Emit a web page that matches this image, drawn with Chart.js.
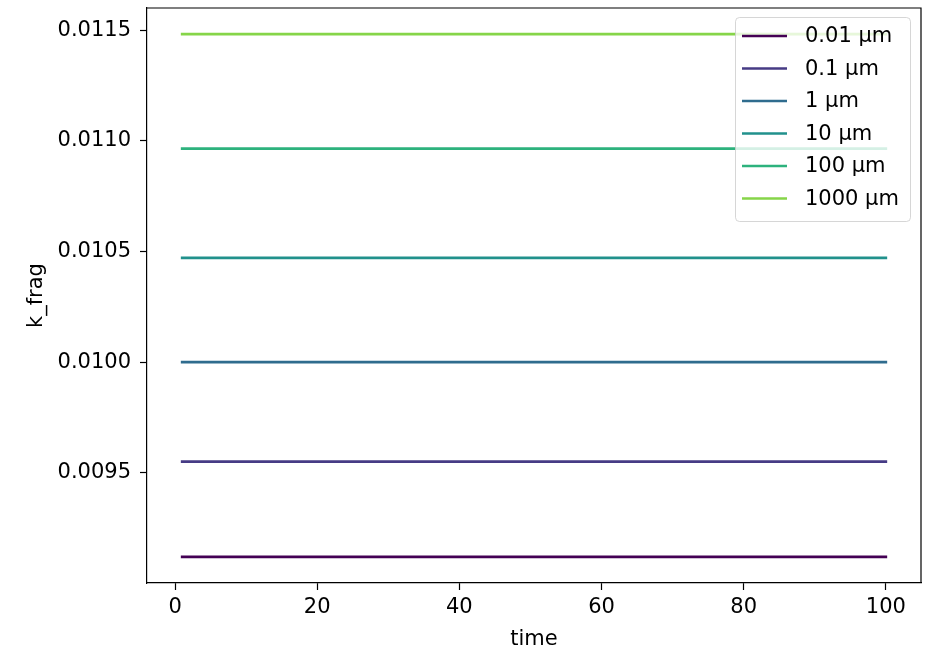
<!DOCTYPE html>
<html lang="en">
<head>
  <meta charset="UTF-8">
  <title>k_frag vs time</title>
  <script src="https://cdn.jsdelivr.net/npm/chart.js"></script>
  <style>
    html, body {
      margin: 0;
      padding: 0;
      background: white;
    }
    #wrap {
      width: 930px;
      height: 652px;
    }
  </style>
</head>
<body>
  <div id="wrap"><canvas id="graphique"></canvas></div>

  <script>
    // time span of each run
    const times = [1, 100];
    // particle sizes and the (constant) fragmentation rate for each
    const sizes = ['0.01 µm', '0.1 µm', '1 µm', '10 µm', '100 µm', '1000 µm'];
    const kFrag = [0.009120, 0.009550, 0.010000, 0.010471, 0.010965, 0.011482];
    const couleurs = ['#440154', '#463b85', '#2f6c8e', '#21918c', '#2db27d', '#86d549'];
    const xTicks = [0, 20, 40, 60, 80, 100];
    const yTicks = [0.0095, 0.0100, 0.0105, 0.0110, 0.0115];

    const police = 'DejaVu Sans';
    const taille = 21;

    const datasets = sizes.map((nom, i) => ({
      label: nom,
      data: times.map(t => ({ x: t, y: kFrag[i] })),
      borderColor: couleurs[i],
      backgroundColor: couleurs[i],
      borderWidth: 2.7,
      borderCapStyle: 'square',
      pointRadius: 0,
      fill: false
    }));

    // top/right spines + legend box in the upper right corner
    const cadreEtLegende = {
      id: 'cadreEtLegende',
      afterDatasetsDraw(chart) {
        const { ctx, chartArea: a } = chart;
        ctx.save();
        ctx.strokeStyle = '#000';
        ctx.lineWidth = 1.2;
        ctx.beginPath();
        ctx.moveTo(a.left, a.top);
        ctx.lineTo(a.right, a.top);
        ctx.lineTo(a.right, a.bottom);
        ctx.stroke();

        const bx = a.right - 186, by = a.top + 9, bw = 175, bh = 204;
        ctx.fillStyle = 'rgba(255,255,255,0.8)';
        ctx.strokeStyle = 'rgba(204,204,204,0.8)';
        ctx.lineWidth = 1;
        ctx.beginPath();
        ctx.roundRect(bx + 0.5, by + 0.5, bw, bh, 4);
        ctx.fill();
        ctx.stroke();

        ctx.font = taille + 'px "' + police + '"';
        ctx.textBaseline = 'middle';
        ctx.textAlign = 'left';
        sizes.forEach((nom, i) => {
          const y = by + 19 + i * 32.5;
          ctx.strokeStyle = couleurs[i];
          ctx.lineWidth = 2.7;
          ctx.beginPath();
          ctx.moveTo(bx + 7, y);
          ctx.lineTo(bx + 52, y);
          ctx.stroke();
          ctx.fillStyle = '#000';
          ctx.fillText(nom, bx + 70, y + 1);
        });
        ctx.restore();
      }
    };

    new Chart(document.getElementById('graphique'), {
      type: 'line',
      data: { datasets: datasets },
      options: {
        responsive: true,
        maintainAspectRatio: false,
        animation: false,
        layout: { padding: { top: 8, right: 9, left: 0, bottom: 0 } },
        plugins: {
          legend: { display: false },
          tooltip: { enabled: false }
        },
        scales: {
          x: {
            type: 'linear',
            min: -3.95,
            max: 104.95,
            afterFit(s) { s.height = 69; s.paddingLeft = 0; s.paddingRight = 0; },
            afterBuildTicks(s) { s.ticks = xTicks.map(v => ({ value: v })); },
            grid: { drawOnChartArea: false, drawTicks: true, tickLength: 7, color: '#000', tickWidth: 1.2 },
            border: { display: true, color: '#000', width: 1.2 },
            ticks: {
              color: '#000',
              padding: 5,
              maxRotation: 0,
              font: { family: police, size: taille },
              callback: v => String(v)
            },
            title: {
              display: true,
              text: 'time',
              color: '#000',
              padding: { top: 0, bottom: 0 },
              font: { family: police, size: taille }
            }
          },
          y: {
            type: 'linear',
            min: 0.009002,
            max: 0.011600,
            afterFit(s) { s.width = 147; s.paddingTop = 0; s.paddingBottom = 0; },
            afterBuildTicks(s) { s.ticks = yTicks.map(v => ({ value: v })); },
            grid: { drawOnChartArea: false, drawTicks: true, tickLength: 7, color: '#000', tickWidth: 1.2 },
            border: { display: true, color: '#000', width: 1.2 },
            ticks: {
              color: '#000',
              padding: 9,
              font: { family: police, size: taille },
              callback: v => v.toFixed(4)
            },
            title: {
              display: true,
              text: 'k_frag',
              color: '#000',
              padding: { top: 24, bottom: 0 },
              font: { family: police, size: taille }
            }
          }
        }
      },
      plugins: [cadreEtLegende]
    });
  </script>
</body>
</html>
